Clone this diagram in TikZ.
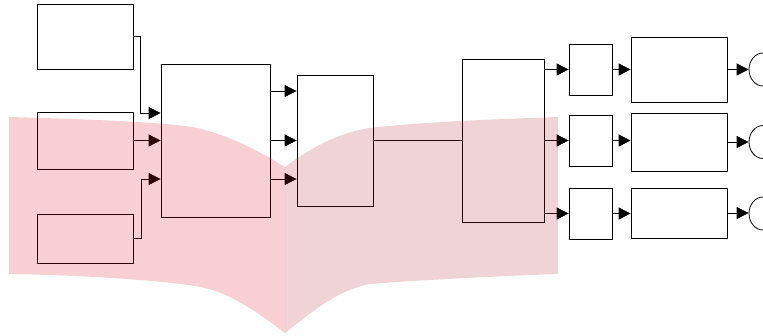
\documentclass[tikz,border=0pt]{standalone}
\usetikzlibrary{arrows.meta,shapes.geometric}
\definecolor{pageL}{RGB}{220,20,35}
\definecolor{pageR}{RGB}{175,35,50}
\tikzset{
  box/.style={draw=black, line width=0.8pt, inner sep=0pt},
  oval/.style={draw=black, line width=0.8pt, ellipse, inner sep=0pt, minimum width=28pt, minimum height=33pt},
  arr/.style={draw=black, line width=0.8pt, -{Triangle[length=12pt,width=12pt]}},
  ln/.style={draw=black, line width=0.8pt},
  pagefill/.style={fill opacity=0.2, draw=none}
}
\begin{document}
\begin{tikzpicture}[x=1pt,y=-1pt]
\useasboundingbox (0,0) rectangle (763,335);
% left inputs
\node[box, minimum width=96pt, minimum height=65pt] (A1) at (85,36.5) {};
\node[box, minimum width=96pt, minimum height=57pt] (A2) at (85,140.5) {};
\node[box, minimum width=96pt, minimum height=49pt] (A3) at (85,238.5) {};
\node[box, minimum width=109pt, minimum height=153pt] (B) at (215.5,140.5) {};
\node[box, minimum width=76pt, minimum height=131pt] (C) at (335,140.5) {};
\node[box, minimum width=82pt, minimum height=163pt] (D) at (503,140.5) {};
\node[box, minimum width=43pt, minimum height=51pt] (E1) at (590.5,69.5) {};
\node[box, minimum width=43pt, minimum height=51pt] (E2) at (590.5,140.5) {};
\node[box, minimum width=43pt, minimum height=51pt] (E3) at (590.5,213.5) {};
\node[box, minimum width=96pt, minimum height=65pt] (F1) at (679,69.5) {};
\node[box, minimum width=96pt, minimum height=58pt] (F2) at (679,142) {};
\node[box, minimum width=96pt, minimum height=50pt] (F3) at (679,213) {};
\node[oval] (G1) at (763,69.5) {};
\node[oval] (G2) at (763,142) {};
\node[oval] (G3) at (763,213.5) {};
% helper coordinates
\coordinate (Bin1) at ([yshift=27.5pt]B.west);
\coordinate (Bin3) at ([yshift=-38.5pt]B.west);
\coordinate (Bout1) at ([yshift=49.5pt]B.east);
\coordinate (Bout3) at ([yshift=-38.5pt]B.east);
% connectors
\draw[arr] (A1.east) -- ++(7,0) |- (Bin1);
\draw[arr] (A2.east) -- (B.west);
\draw[arr] (A3.east) -- ++(8,0) |- (Bin3);
\draw[arr] (Bout1) -- (C.west |- Bout1);
\draw[arr] (B.east) -- (C.west);
\draw[arr] (Bout3) -- (C.west |- Bout3);
\draw[ln] (C.east) -- (D.west);
\draw[arr] (D.east |- E1.west) -- (E1.west);
\draw[arr] (D.east |- E2.west) -- (E2.west);
\draw[arr] (D.east |- E3.west) -- (E3.west);
\draw[arr] (E1.east) -- (F1.west);
\draw[arr] (E2.east) -- (F2.west |- E2.east);
\draw[arr] (E3.east) -- (F3.west |- E3.east);
\draw[arr] (F1.east) -- (G1.west);
\draw[arr] (F2.east) -- (G2.west);
\draw[arr] (F3.east) -- (G3.west |- F3.east);
% translucent book overlay
\fill[pagefill, fill=pageL] (9,117) .. controls (120,120) and (190,124) .. (205,130)
  .. controls (240,140) and (265,155) .. (285,167) -- (285,333)
  .. controls (265,318) and (235,295) .. (205,288)
  .. controls (190,284) and (120,276) .. (9,274) -- cycle;
\fill[pagefill, fill=pageR] (285,167) .. controls (305,152) and (335,133) .. (370,128)
  .. controls (420,122) and (500,119) .. (558,117) -- (558,274)
  .. controls (500,276) and (420,280) .. (370,284)
  .. controls (335,290) and (305,318) .. (285,333) -- cycle;
\end{tikzpicture}
\end{document}
